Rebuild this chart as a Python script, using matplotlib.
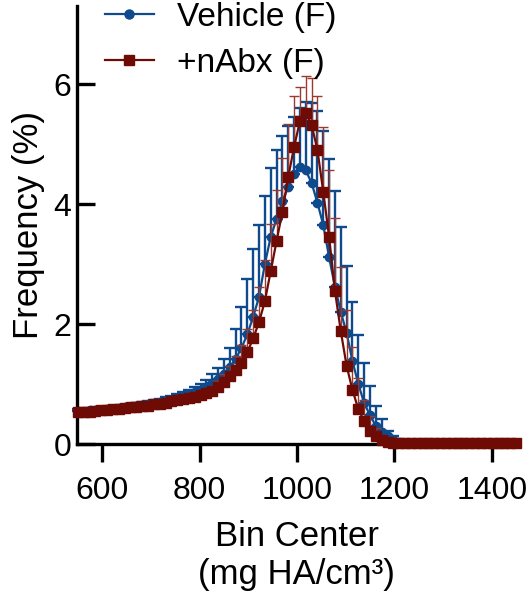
import numpy as np
import matplotlib
matplotlib.use('Agg')
from matplotlib import pyplot as plt
from matplotlib.lines import Line2D

plt.rcParams['font.family'] = ['Liberation Sans', 'DejaVu Sans']

# bin centers (mg HA/cm3)
bin_center = list(range(550, 1451, 12))

# Vehicle (F): mean frequency (%) and upper error
vehicle = [0.55, 0.55, 0.56, 0.57, 0.57, 0.58, 0.59, 0.60, 0.61, 0.62,
           0.63, 0.65, 0.66, 0.68, 0.70, 0.72, 0.74, 0.77, 0.79, 0.82,
           0.86, 0.90, 0.95, 1.01, 1.08, 1.17, 1.28, 1.42, 1.60, 1.83,
           2.12, 2.45, 3.00, 3.45, 3.75, 4.05, 4.28, 4.50, 4.62, 4.56,
           4.35, 4.02, 3.65, 3.11, 2.62, 2.20, 1.85, 1.38, 1.00, 0.68,
           0.48, 0.30, 0.20, 0.13, 0.06, 0.03, 0.02] + [0.01] * 19
vehicle_err = [0.03, 0.03, 0.03, 0.03, 0.04, 0.04, 0.04, 0.04, 0.04, 0.04,
               0.05, 0.05, 0.05, 0.05, 0.05, 0.06, 0.06, 0.06, 0.07, 0.08,
               0.09, 0.10, 0.12, 0.15, 0.19, 0.25, 0.32, 0.50, 0.68, 0.92,
               1.13, 1.20, 1.14, 1.15, 1.15, 1.08, 1.02, 0.95, 0.98, 1.14,
               1.33, 1.53, 1.57, 1.64, 1.60, 1.42, 1.12, 0.98, 0.82, 0.67,
               0.48, 0.34, 0.21, 0.09, 0.07, 0.03, 0.01] + [0.0] * 19

# +nAbx (F)
nabx = [0.53, 0.54, 0.54, 0.55, 0.56, 0.57, 0.58, 0.59, 0.60, 0.61,
        0.62, 0.63, 0.64, 0.66, 0.67, 0.69, 0.71, 0.73, 0.75, 0.77,
        0.79, 0.81, 0.85, 0.89, 0.95, 1.03, 1.13, 1.24, 1.35, 1.53,
        1.76, 2.03, 2.38, 2.88, 3.38, 3.87, 4.45, 4.95, 5.38, 5.52,
        5.32, 4.90, 4.20, 3.45, 2.55, 1.88, 1.30, 0.90, 0.58, 0.38,
        0.22, 0.13, 0.07, 0.04, 0.025, 0.02, 0.015] + [0.01] * 19
nabx_err = [0.02, 0.02, 0.02, 0.02, 0.02, 0.02, 0.02, 0.02, 0.02, 0.02,
            0.02, 0.02, 0.03, 0.03, 0.03, 0.03, 0.03, 0.03, 0.04, 0.04,
            0.04, 0.05, 0.06, 0.08, 0.10, 0.13, 0.17, 0.22, 0.30, 0.38,
            0.48, 0.58, 0.68, 0.78, 0.85, 0.90, 0.88, 0.85, 0.57, 0.61,
            0.78, 0.90, 1.08, 1.12, 1.21, 1.07, 0.94, 0.72, 0.52, 0.36,
            0.24, 0.14, 0.08, 0.05, 0.03, 0.01, 0.01] + [0.0] * 19

blue = '#0e4a8c'
red = '#6e0b04'

fig = plt.figure(figsize=(5.29, 6.0), dpi=100)
ax = fig.add_axes([0.1455, 0.26, 0.830, 0.73])

x = np.array(bin_center)
# upper-only error bars
eb1 = ax.errorbar(x, vehicle, yerr=[np.zeros(len(x)), vehicle_err],
                  color=blue, lw=1.6, marker='o', ms=6, mec=blue, mfc=blue,
                  ecolor=blue, elinewidth=1.7, capsize=4.5, capthick=1.7,
                  zorder=2)
eb2 = ax.errorbar(x, nabx, yerr=[np.zeros(len(x)), nabx_err],
                  color=red, lw=1.6, marker='s', ms=6.5, mec=red, mfc=red,
                  ecolor='#9a3a30', elinewidth=1.0, capsize=3.5, capthick=1.0,
                  zorder=3)
for eb in (eb1, eb2):
    eb[0].set_clip_on(False)
    for c in eb[1]:
        c.set_clip_on(False)
    for col in eb[2]:
        col.set_clip_on(False)

ax.set_xlim(548, 1450)
ax.set_ylim(0, 7.3)
ax.set_xticks([600, 800, 1000, 1200, 1400])
ax.set_yticks([0, 2, 4, 6])

for s in ('top', 'right'):
    ax.spines[s].set_visible(False)
for s in ('left', 'bottom'):
    ax.spines[s].set_linewidth(2.4)
ax.tick_params(axis='x', direction='out', length=13, width=2.4, labelsize=23, pad=10)
ax.tick_params(axis='y', direction='in', length=13, width=2.4, labelsize=23, pad=4)

ax.set_ylabel('Frequency (%)', fontsize=25, labelpad=6)
ax.set_xlabel('Bin Center\n(mg HA/cm³)', fontsize=25, labelpad=10, linespacing=1.2)

handles = [Line2D([], [], color=blue, lw=1.6, marker='o', ms=6.5, mfc=blue, mec=blue),
           Line2D([], [], color=red, lw=1.6, marker='s', ms=7, mfc=red, mec=red)]
ax.legend(handles, ['Vehicle (F)', '+nAbx (F)'], loc='upper left',
          bbox_to_anchor=(0.199, 0.9967), bbox_transform=fig.transFigure,
          frameon=False, fontsize=24, handlelength=1.45, handletextpad=0.7,
          labelspacing=0.45, borderpad=0, borderaxespad=0)

fig.savefig('out.png', dpi=100)
